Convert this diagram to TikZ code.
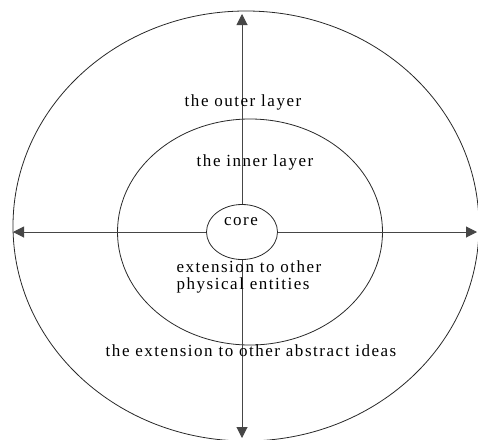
\documentclass[tikz,border=0pt]{standalone}
\usepackage{fontspec}
\setmainfont{Liberation Serif}
\usepackage{xcolor}
\usepackage{tikz}
\usetikzlibrary{
arrows.meta,
positioning,
shapes.geometric
}
\definecolor{layerline}{RGB}{40,40,40}
\definecolor{axisline}{RGB}{70,70,70}

\begin{document}
\begin{tikzpicture}[
  x=1pt, y=-1pt,
  >={Triangle[length=11pt, width=11pt]},
  layer/.style={
    draw=layerline, ellipse, inner sep=0pt, line width=0.8pt
  },
  layertext/.style={
    font=\fontsize{17}{17}\selectfont\addfontfeatures{LetterSpace=9},
    inner sep=0pt, align=left
  },
  axis/.style={
    ->, draw=axisline, line width=1pt
  }
]
\useasboundingbox (0,0) rectangle (478,439);

%% ============================================================
%%  LAYERS
%% ============================================================
\node[layer, minimum width=466pt, minimum height=430pt] (outer) at (246,226) {};
\node[layer, minimum width=265pt, minimum height=226pt] (inner) at (250,232) {};
\node[layer, minimum width=71pt, minimum height=55pt] (core) at (242,232) {};

%% ============================================================
%%  AXES FROM THE CORE
%% ============================================================
\coordinate (topend) at (242,14);
\coordinate (bottomend) at (242,438);
\coordinate (leftend) at (13,232);
\coordinate (rightend) at (477,232);

\draw[axis] (core.north) -- (topend);
\draw[axis] (core.south) -- (bottomend);
\draw[axis] (core.west) -- (leftend);
\draw[axis] (core.east) -- (rightend);

%% ============================================================
%%  LABELS
%% ============================================================
\node[layertext] (coretext) at (241,222) {core};
\node[layertext] (outertext) at (243,102) {the outer layer};
\node[layertext] (innertext) at (255,162) {the inner layer};
\node[layertext] (physical) at (249,277)
  {extension to other\\physical entities};
\node[layertext] (abstract) at (251,351)
  {the extension to other abstract ideas};

\end{tikzpicture}
\end{document}
